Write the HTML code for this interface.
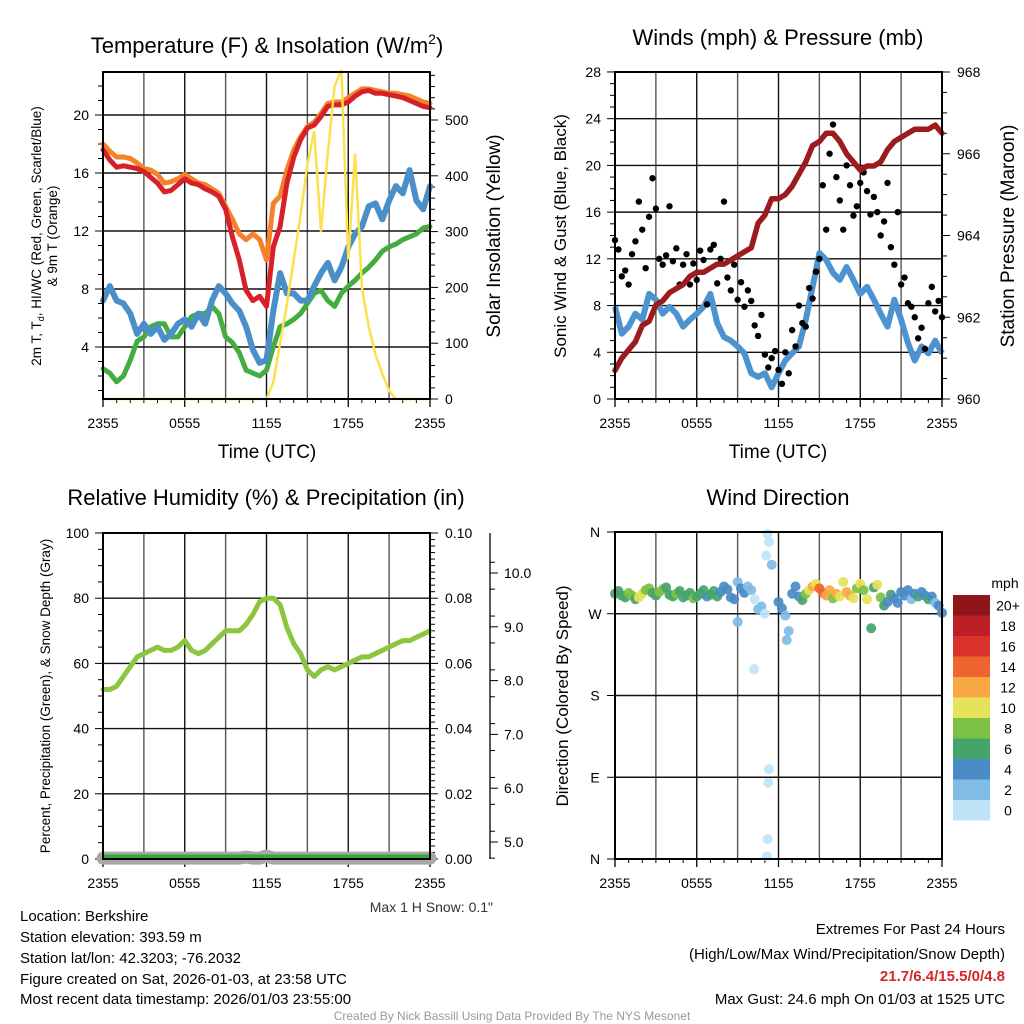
<!DOCTYPE html>
<html><head><meta charset="utf-8">
<style>
html,body{margin:0;padding:0;background:#fff;}
svg{display:block;font-family:"Liberation Sans",Arial,sans-serif;}
</style></head>
<body>
<svg id="chart" width="1024" height="1024" viewBox="0 0 1024 1024" xmlns="http://www.w3.org/2000/svg">
<rect x="0" y="0" width="1024" height="1024" fill="#fff"/>
<g id="p1"></g>
<g id="p2"></g>
<g id="p3"></g>
<g id="p4"></g>
<g id="txt">
<text x="267" y="53" font-size="22" text-anchor="middle">Temperature (F) &amp; Insolation (W/m<tspan font-size="14" dy="-9">2</tspan><tspan dy="9">)</tspan></text>
<text x="778" y="45" font-size="22" text-anchor="middle">Winds (mph) &amp; Pressure (mb)</text>
<text x="266" y="505" font-size="22" text-anchor="middle">Relative Humidity (%) &amp; Precipitation (in)</text>
<text x="778" y="505" font-size="22" text-anchor="middle">Wind Direction</text>
<text x="267" y="458" font-size="19" text-anchor="middle">Time (UTC)</text>
<text x="778" y="458" font-size="19" text-anchor="middle">Time (UTC)</text>
<text transform="translate(41,236) rotate(-90)" font-size="13.5" text-anchor="middle">2m T, T<tspan font-size="9" dy="3">d</tspan><tspan dy="-3">, HI/WC (Red, Green, Scarlet/Blue)</tspan></text>
<text transform="translate(57,236) rotate(-90)" font-size="13.5" text-anchor="middle">&amp; 9m T (Orange)</text>
<text transform="translate(500,236) rotate(-90)" font-size="19" text-anchor="middle">Solar Insolation (Yellow)</text>
<text transform="translate(566,236) rotate(-90)" font-size="17" text-anchor="middle">Sonic Wind &amp; Gust (Blue, Black)</text>
<text transform="translate(1014,236) rotate(-90)" font-size="19" text-anchor="middle">Station Pressure (Maroon)</text>
<text transform="translate(50,696) rotate(-90)" font-size="13.5" text-anchor="middle">Percent, Precipitation (Green), &amp; Snow Depth (Gray)</text>
<text transform="translate(568,696) rotate(-90)" font-size="17" text-anchor="middle">Direction (Colored By Speed)</text>
<text x="493" y="912" font-size="14" text-anchor="end" fill="#333">Max 1 H Snow: 0.1"</text>
<text x="1005" y="588" font-size="14" text-anchor="middle">mph</text>
<g font-size="15">
<text x="20" y="921">Location: Berkshire</text>
<text x="20" y="942">Station elevation: 393.59 m</text>
<text x="20" y="963">Station lat/lon: 42.3203; -76.2032</text>
<text x="20" y="984">Figure created on Sat, 2026-01-03, at 23:58 UTC</text>
<text x="20" y="1004">Most recent data timestamp: 2026/01/03 23:55:00</text>
</g>
<g font-size="15" text-anchor="end">
<text x="1005" y="934">Extremes For Past 24 Hours</text>
<text x="1005" y="959">(High/Low/Max Wind/Precipitation/Snow Depth)</text>
<text x="1005" y="981" fill="#d62728" font-weight="bold">21.7/6.4/15.5/0/4.8</text>
<text x="1005" y="1004">Max Gust: 24.6 mph On 01/03 at 1525 UTC</text>
</g>
<text x="512" y="1020" font-size="12" fill="#999" text-anchor="middle">Created By Nick Bassill Using Data Provided By The NYS Mesonet</text>
</g>
</svg>
<script>
// ---------- DATA (30-minute samples, index 0 = 2355 UTC) ----------
const timeLabels = ["2355","0555","1155","1755","2355"];
const tempRed = [17.6,16.9,16.4,16.5,16.4,16.3,16.1,15.7,15.3,14.7,14.8,15.2,15.6,15.3,15.2,14.9,14.7,14.4,13.5,11.6,10.0,7.9,7.2,7.5,6.8,10.9,12.3,15.3,17.1,18.3,19.1,19.3,19.9,20.6,20.7,20.7,20.9,21.3,21.6,21.7,21.5,21.5,21.4,21.3,21.2,21.0,20.8,20.6,20.5];
const temp9mOrange = [18.0,17.5,17.1,17.1,17.0,16.7,16.3,16.2,15.9,15.3,15.4,15.6,15.9,15.6,15.3,15.2,14.9,14.6,13.7,12.8,11.8,11.4,11.8,11.4,10.0,13.9,14.4,16.2,17.6,18.5,19.2,19.5,20.1,20.8,20.9,20.9,21.2,21.5,21.8,21.8,21.7,21.6,21.5,21.5,21.4,21.3,21.1,20.9,20.8];
const dewGreen = [2.5,2.2,1.6,2.0,3.1,4.4,4.7,5.4,5.6,5.6,4.7,4.7,5.4,6.1,6.3,6.3,6.8,6.3,4.7,4.3,3.6,2.4,2.2,2.0,2.4,4.0,5.4,5.6,5.9,6.3,7.0,7.7,7.9,7.2,6.8,7.7,8.2,8.6,9.1,9.5,10.0,10.6,10.9,11.1,11.4,11.6,11.8,12.2,12.3];
const windChillBlue = [7.2,8.2,7.2,7.0,6.3,4.9,5.6,4.9,5.4,4.5,4.9,5.6,5.9,5.4,6.3,5.6,7.2,8.2,7.7,7.0,6.5,5.4,3.8,2.9,3.1,6.5,9.1,7.7,7.7,7.2,7.2,8.2,9.1,9.8,8.6,9.5,10.9,11.8,12.3,13.7,13.9,12.8,14.1,15.1,14.6,16.2,14.1,13.5,15.1];
const solarYellow = [0,0,0,0,0,0,0,0,0,0,0,0,0,0,0,0,0,0,0,0,0,0,0,0,0,30,100,170,250,330,420,480,300,440,560,590,250,440,200,130,80,45,15,0,0,0,0,0,0];
const windBlue = [7.9,5.6,6.2,7.3,6.8,9.0,8.5,7.3,7.9,7.3,6.2,6.8,7.3,7.9,9.0,6.5,5.3,5.0,4.5,3.9,2.2,1.9,2.2,1.0,2.2,3.3,3.9,4.5,6.8,9.6,12.5,11.9,10.8,10.2,11.3,10.2,9.0,9.6,8.5,7.3,6.2,8.5,6.8,4.8,3.3,4.5,3.9,5.0,3.9];
// gusts every 15 minutes
const gustBlack = [13.6,12.8,10.5,11.0,9.8,12.4,13.5,16.9,14.5,11.2,15.6,18.9,16.3,12.0,11.5,12.3,16.5,11.8,12.9,9.8,11.5,12.4,9.8,11.6,10.2,12.7,11.9,8.1,12.8,13.2,9.9,12.0,16.9,10.4,9.3,11.5,8.5,10.0,7.9,9.3,8.4,6.3,5.4,7.2,3.8,2.7,3.5,4.1,2.5,1.3,4.0,2.2,5.9,4.5,8.0,6.5,6.2,9.5,8.6,10.9,12.0,18.3,14.5,21.0,23.5,19.0,17.0,14.5,20.0,18.3,15.7,16.5,18.5,19.4,17.8,15.8,17.3,16.0,14.0,15.2,18.5,13.0,11.5,16.0,9.8,10.4,8.2,7.9,7.0,5.2,6.1,4.3,8.2,9.6,7.5,8.4,7.0];
const pressureMaroon = [960.7,961.0,961.2,961.4,961.8,961.9,962.3,962.4,962.6,962.7,962.8,963.0,963.1,963.1,963.2,963.3,963.3,963.4,963.5,963.6,963.7,964.3,964.5,964.9,964.9,965.0,965.2,965.5,965.8,966.2,966.3,966.5,966.5,966.3,966.0,965.8,965.6,965.7,965.7,965.8,966.1,966.3,966.4,966.5,966.6,966.6,966.6,966.7,966.5];
const rhGreen = [52,52,53,56,59,62,63,64,65,64,64,65,67,64,63,64,66,68,70,70,70,72,75,79,80,80,78,71,66,63,58,56,58,59,58,59,60,61,62,62,63,64,65,66,67,67,68,69,70];
const precipIn = [0,0,0,0,0,0,0,0,0,0,0,0,0,0,0,0,0,0,0,0,0,0,0,0,0,0,0,0,0,0,0,0,0,0,0,0,0,0,0,0,0,0,0,0,0,0,0,0,0];
const snowDepth = [4.7,4.7,4.7,4.7,4.7,4.7,4.7,4.7,4.7,4.7,4.7,4.7,4.7,4.7,4.7,4.7,4.7,4.7,4.7,4.7,4.7,4.72,4.7,4.7,4.74,4.7,4.7,4.7,4.7,4.7,4.7,4.7,4.7,4.7,4.7,4.7,4.7,4.7,4.7,4.7,4.7,4.7,4.7,4.7,4.7,4.7,4.7,4.7,4.7];
// wind direction observations: hours since 2355, degrees, speed (mph)
const wdHour = [0,0.25,0.5,0.75,1,1.25,1.5,1.75,2,2.25,2.5,2.75,3,3.25,3.5,3.75,4,4.25,4.5,4.75,5,5.25,5.5,5.75,6,6.25,6.5,6.75,7,7.25,7.5,7.75,8,8.25,8.5,8.75,9,9.25,9.5,9.75,10,10.25,10.5,10.75,11,11.2,11.3,11.1,11.5,11.3,11.25,11.2,11.15,10.2,9,12,12.25,12.5,12.6,12.75,13,13.25,13.5,13.75,14,14.25,14.5,14.75,15,15.25,15.5,15.75,16,16.25,16.5,16.75,17,17.25,17.5,17.75,18,18.25,18.5,18.8,19,19.25,19.5,19.75,20,20.25,20.5,20.75,21,21.25,21.5,21.75,22,22.25,22.5,22.75,23,23.25,23.5,23.75,24];
const wdDir = [292,295,290,288,293,290,286,288,292,296,298,293,290,294,297,299,291,289,292,295,288,290,293,287,289,292,296,289,291,295,289,294,300,297,288,286,305,298,293,300,296,286,275,278,270,358,349,334,324,99,84,22,3,209,261,283,276,268,241,251,292,300,289,285,292,296,300,303,298,293,290,296,287,292,289,305,294,290,287,298,303,296,286,254,299,302,288,279,283,291,287,282,294,290,296,286,292,289,294,290,286,289,282,279,271];
const wdSpeed = [6,7,6,7,8,9,6,10,11,8,8,7,6,8,8,7,6,7,8,6,7,6,7,8,6,7,6,5,6,7,6,5,4,5,4,5,3,4,5,3,2,1,2,2,1,1,1,1,2,1,1,1,1,1,3,4,4,3,3,3,5,4,5,7,9,10,13,11,15,14,13,12,9,13,11,10,13,12,11,9,10,8,10,6,7,10,8,6,5,6,5,4,4,4,5,3,5,6,5,4,6,4,3,4,4];
const speedBinLabels = ["20+","18","16","14","12","10","8","6","4","2","0"];
const speedBinColors = ["#8e1518","#bd1f26","#d9332b","#ef6530","#f8a844","#e6e25a","#7cc146","#46a46b","#4a8bc6","#80bce6","#bfe4f8"];
const p1LeftTicks = [4,8,12,16,20];
const p1RightTicks = [0,100,200,300,400,500];
const p2LeftTicks = [0,4,8,12,16,20,24,28];
const p2RightTicks = [960,962,964,966,968];
const p3LeftTicks = [0,20,40,60,80,100];
const p3RightTicks = ["0.00","0.02","0.04","0.06","0.08","0.10"];
const p3SnowTicks = ["5.0","6.0","7.0","8.0","9.0","10.0"];
const dirLabels = ["N","W","S","E","N"];
const dirTicks = [360,270,180,90,0];

// ---------- helpers ----------
const NS="http://www.w3.org/2000/svg";
function mk(parent,tag,attrs){const e=document.createElementNS(NS,tag);for(const k in attrs)e.setAttribute(k,attrs[k]);parent.appendChild(e);return e;}
function txt(parent,x,y,s,size,anchor){const t=mk(parent,"text",{x:x,y:y,"font-size":size,"text-anchor":anchor});t.textContent=s;return t;}
function pathFrom(xs,ys){let d="";for(let i=0;i<xs.length;i++)d+=(i?"L":"M")+xs[i].toFixed(1)+","+ys[i].toFixed(1);return d;}

// axis functions
const L1=103,R1=430,L2=615,R2=942;
const xP1=t=>L1+t/24*(R1-L1);
const xP2=t=>L2+t/24*(R2-L2);
const yTemp=v=>405-v*14.5;
const ySolar=s=>399-s*0.558;
const yWind=w=>399-w*11.68;
const yPres=p=>399-(p-960)*40.875;
const yRH=r=>859-r*3.26;
const yPrecip=p=>859-p*3260;
const ySnow=s=>842-(s-5)*53.8;
const yDir=d=>532+(360-d)/360*327;
const half=i=>i*0.5;

function frame(g,L,R,T,B,xf){
  for(let h=3;h<24;h+=3){const l=mk(g,"line",{x1:xf(h),x2:xf(h),y1:T,y2:B,stroke:(h%6===0?"#111":"#555"),"stroke-width":1.4});
    
    }
  for(let i=0;i<timeLabels.length;i++){const x=xf(i*6);
    mk(g,"line",{x1:x,x2:x,y1:B,y2:B+8,stroke:"#000","stroke-width":1.3});
    const t=txt(g,x,B+29,timeLabels[i],14,"middle");
    
    }
  for(let h=1;h<24;h++){if(h%6)mk(g,"line",{x1:xf(h),x2:xf(h),y1:B,y2:B+4,stroke:"#000","stroke-width":1});}
}
function hgrid(g,L,R,y){const l=mk(g,"line",{x1:L,x2:R,y1:y,y2:y,stroke:"#111","stroke-width":1.4});
  
  }
function border(g,L,R,T,B){const r=mk(g,"rect",{x:L,y:T,width:R-L,height:B-T,fill:"none",stroke:"#000","stroke-width":2});
  
  }
function leftTick(g,L,y,label,minor){mk(g,"line",{x1:L-(minor?5:8),x2:L,y1:y,y2:y,stroke:"#000","stroke-width":1});
  if(label!==null){const t=txt(g,L-14,y+5,label,14,"end");
    
    }}
function rightTick(g,R,y,label,minor){mk(g,"line",{x1:R,x2:R+(minor?5:8),y1:y,y2:y,stroke:"#000","stroke-width":1});
  if(label!==null){const t=txt(g,R+15,y+5,label,14,"start");
    
    }}

// ---------- Panel 1 ----------
(function(){
  const g=document.getElementById("p1"),T=72,B=399;
  frame(g,L1,R1,T,B,xP1);
  p1LeftTicks.forEach(v=>hgrid(g,L1,R1,yTemp(v)));
  for(let v=0;v<=22;v++){const y=yTemp(v);if(y<=B&&y>=T)leftTick(g,L1,y,p1LeftTicks.includes(v)?String(v):null,!p1LeftTicks.includes(v));}
  for(let s=0;s<=580;s+=20){const y=ySolar(s);if(y>=T)rightTick(g,R1,y,p1RightTicks.includes(s)?String(s):null,s%100!==0);}
  const xs=tempRed.map((_,i)=>xP1(half(i)));
  const series=[[dewGreen,"#44ad3f","dewpoint-line",5],[windChillBlue,"#4a8fc8","windchill-line",6],[temp9mOrange,"#f5822b","temperature-9m-line",5],[tempRed,"#d62128","temperature-2m-line",5]];
  series.forEach(s=>{const p=mk(g,"path",{d:pathFrom(xs,s[0].map(yTemp)),fill:"none",stroke:s[1],"stroke-width":s[3],"stroke-linejoin":"round","stroke-linecap":"round"});
    
    });
  const sp=mk(g,"path",{d:pathFrom(xs,solarYellow.map(ySolar)),fill:"none",stroke:"#fbe14e","stroke-width":2.5});
  
  
  border(g,L1,R1,T,B);
})();

// ---------- Panel 2 ----------
(function(){
  const g=document.getElementById("p2"),T=72,B=399;
  frame(g,L2,R2,T,B,xP2);
  p2LeftTicks.forEach(v=>{if(v>0&&v<28)hgrid(g,L2,R2,yWind(v));});
  for(let v=0;v<=28;v++){leftTick(g,L2,yWind(v),p2LeftTicks.includes(v)?String(v):null,!p2LeftTicks.includes(v));}
  for(let p=960;p<=968.01;p+=0.5){const major=Math.abs(p-Math.round(p/2)*2)<0.01;rightTick(g,R2,yPres(p),major?String(Math.round(p)):null,!major);}
  const xs=windBlue.map((_,i)=>xP2(half(i)));
  const wp=mk(g,"path",{d:pathFrom(xs,windBlue.map(yWind)),fill:"none",stroke:"#4c93cf","stroke-width":6,"stroke-linejoin":"round"});
  
  
  gustBlack.forEach((v,k)=>{const c=mk(g,"circle",{cx:xP2(k*0.25),cy:yWind(v),r:3.2,fill:"#000"});
    
    });
  const pp=mk(g,"path",{d:pathFrom(xs,pressureMaroon.map(yPres)),fill:"none",stroke:"#9b1b1e","stroke-width":5.5,"stroke-linejoin":"round","stroke-linecap":"round"});
  
  
  border(g,L2,R2,T,B);
})();

// ---------- Panel 3 ----------
(function(){
  const g=document.getElementById("p3"),T=533,B=859;
  frame(g,L1,R1,T,B,xP1);
  p3LeftTicks.forEach(v=>{if(v>0&&v<100)hgrid(g,L1,R1,yRH(v));});
  for(let v=0;v<=100;v+=5){leftTick(g,L1,yRH(v),p3LeftTicks.includes(v)?String(v):null,v%20!==0);}
  for(let k=0;k<=50;k++){const v=k*0.002;const major=k%10===0;rightTick(g,R1,yPrecip(v),major?p3RightTicks[k/10]:null,!major);}
  const sa=mk(g,"line",{x1:490,x2:490,y1:533,y2:859,stroke:"#000","stroke-width":1.3});
  
  
  for(let k=0;k<=11;k++){const s=4.7+k*0.5;const y=ySnow(s);if(y<533)continue;mk(g,"line",{x1:490,x2:495,y1:y,y2:y,stroke:"#000","stroke-width":1});}
  p3SnowTicks.forEach(l=>{const y=ySnow(parseFloat(l));mk(g,"line",{x1:490,x2:498,y1:y,y2:y,stroke:"#000","stroke-width":1});
    const t=txt(g,504,y+5,l,14,"start");
    
    });
  const xs=rhGreen.map((_,i)=>xP1(half(i)));
  const sn=mk(g,"path",{d:pathFrom(xs,snowDepth.map(ySnow)),fill:"none",stroke:"#a8a8a8","stroke-width":13,"stroke-linecap":"round","stroke-linejoin":"round"});
  
  
  const pr=mk(g,"path",{d:pathFrom(xs,precipIn.map(v=>yPrecip(v)-2)),fill:"none",stroke:"#3aa63a","stroke-width":5});
  
  
  const rh=mk(g,"path",{d:pathFrom(xs,rhGreen.map(yRH)),fill:"none",stroke:"#8cc63f","stroke-width":5,"stroke-linejoin":"round","stroke-linecap":"round"});
  
  
  border(g,L1,R1,T,B);
})();

// ---------- Panel 4 ----------
(function(){
  const g=document.getElementById("p4"),T=532,B=859;
  frame(g,L2,R2,T,B,xP2);
  [270,180,90].forEach(d=>hgrid(g,L2,R2,yDir(d)));
  dirTicks.forEach((d,i)=>{const y=yDir(d);mk(g,"line",{x1:L2-8,x2:L2,y1:y,y2:y,stroke:"#000","stroke-width":1});
    const t=txt(g,L2-20,y+5,dirLabels[i],14,"middle");
    
    });
  const col=s=>speedBinColors[10-Math.min(10,Math.floor(s/2))];
  wdHour.forEach((h,i)=>{const c=mk(g,"circle",{cx:xP2(h),cy:yDir(wdDir[i]),r:5,fill:col(wdSpeed[i]),"fill-opacity":0.92});
    
    });
  border(g,L2,R2,T,B);
  const cb=mk(g,"g",{});
  
  
  const top=595,h=20.5;
  speedBinColors.forEach((c,i)=>{const r=mk(cb,"rect",{x:953,y:top+i*h,width:37,height:h,fill:c});
    
    
    const t=txt(cb,1008,top+i*h+h/2+5,speedBinLabels[i],14,"middle");
    
    });
})();
</script>
</body></html>
